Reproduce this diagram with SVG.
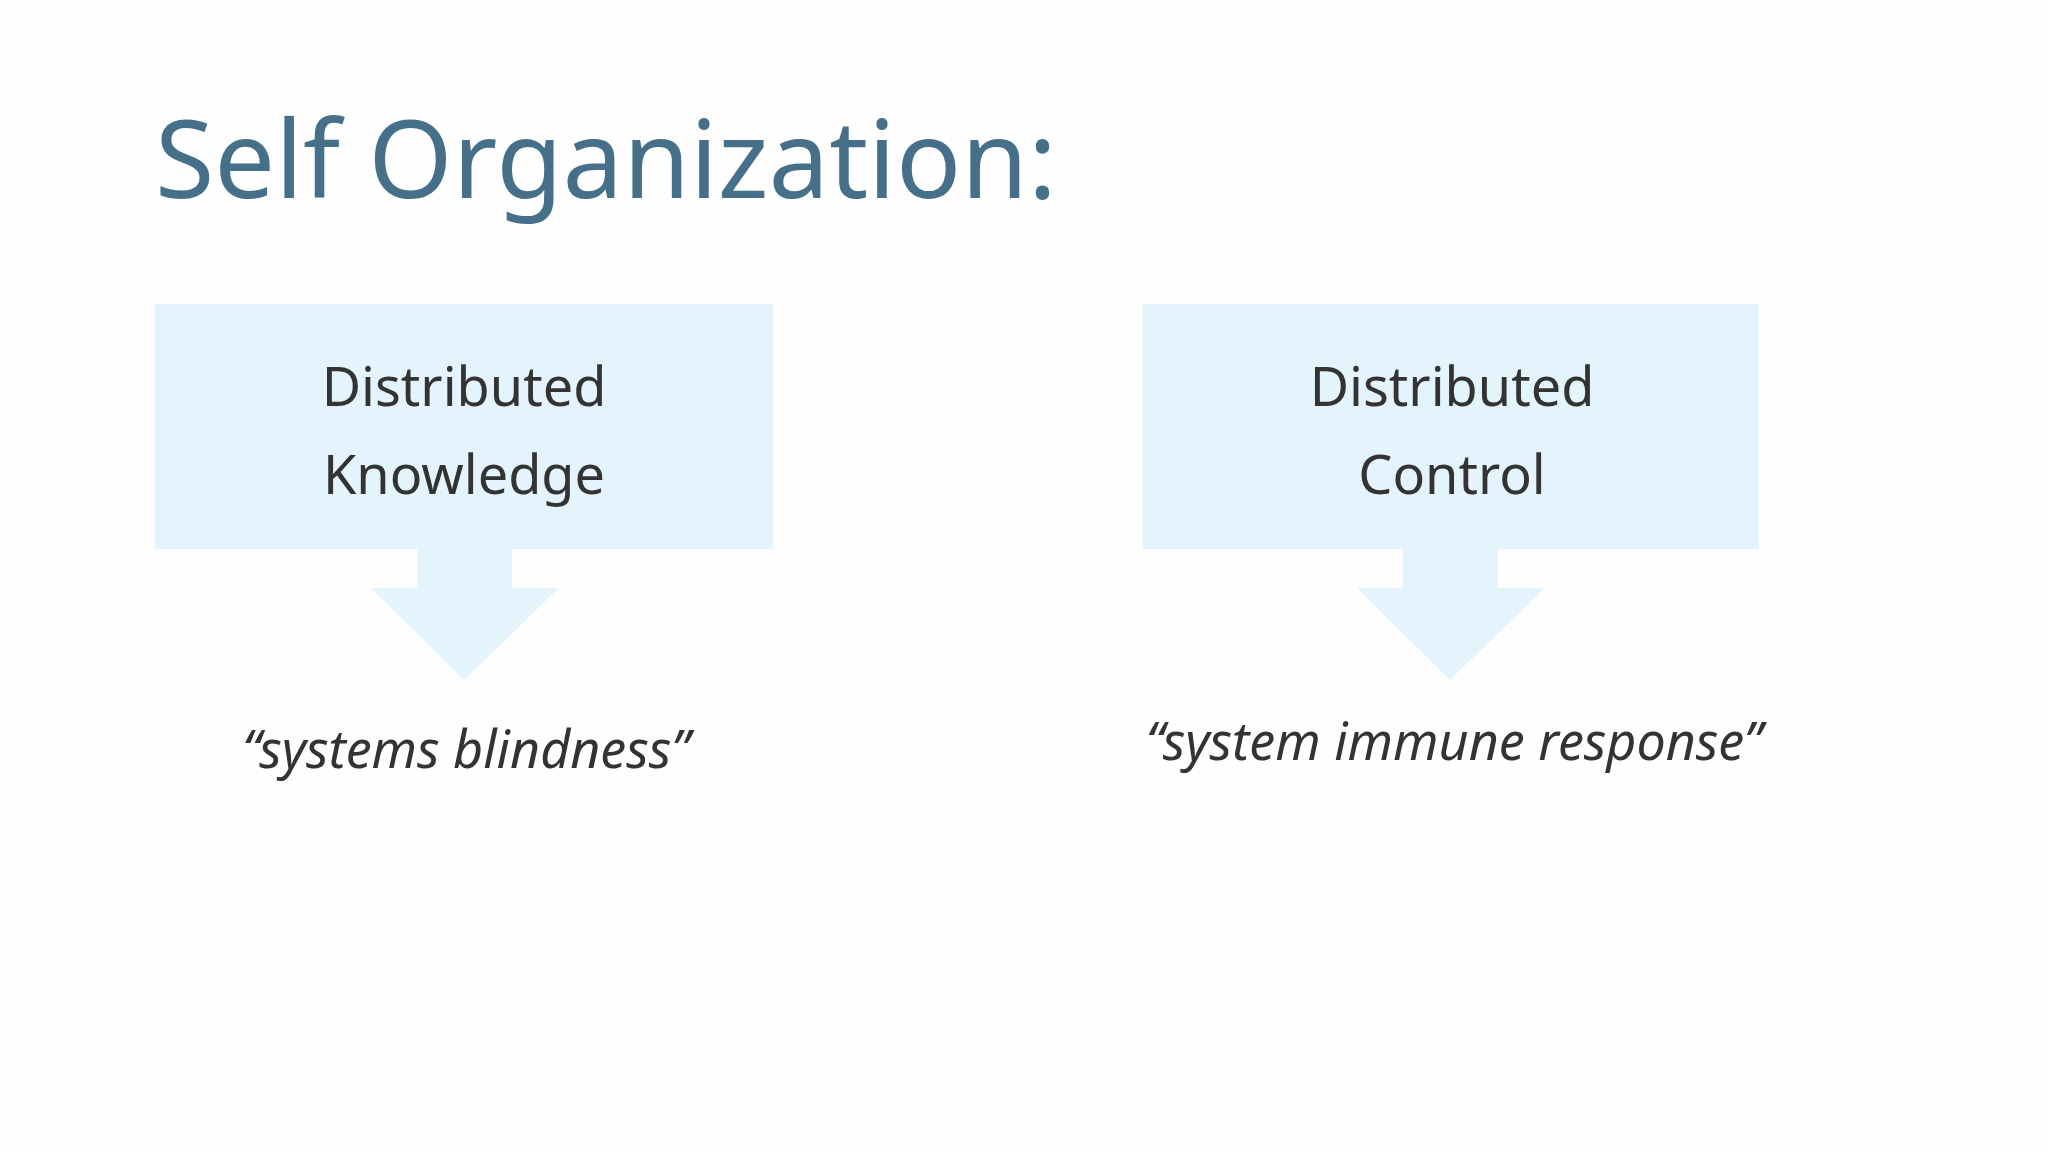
<svg xmlns="http://www.w3.org/2000/svg" width="2048" height="1152" viewBox="0 0 2048 1152">
<style>
.box{fill:#e3f4fd}
.lbl{font-family:"Noto Sans","Liberation Sans",sans-serif;font-size:54px;fill:#333;text-anchor:middle}
.q{font-family:"Noto Sans","Liberation Sans",sans-serif;font-style:italic;font-size:52px;fill:#333;text-anchor:middle}
</style>
<rect width="2048" height="1152" fill="#fefefe"/>
<text x="155" y="198" font-family="'Noto Sans','Liberation Sans',sans-serif" font-size="108" fill="#46708a">Self Organization:</text>
<g id="node1">
<rect class="box" x="155" y="304" width="618" height="245"/>
<text class="lbl" x="464" y="406">Distributed</text>
<text class="lbl" x="464" y="494">Knowledge</text>
</g>
<g id="node2">
<rect class="box" x="1143" y="304" width="616" height="245"/>
<text class="lbl" x="1452" y="406">Distributed</text>
<text class="lbl" x="1452" y="494">Control</text>
</g>
<g id="connectors">
<polygon class="box" points="417,549 512,549 512,588 559,588 464,680 371,588 417,588"/>
<polygon class="box" points="1403,549 1498,549 1498,588 1545,588 1450,680 1357,588 1403,588"/>
</g>
<g id="result1"><text class="q" x="466" y="768">“systems blindness”</text></g>
<g id="result2"><text class="q" x="1454" y="760">“system immune response”</text></g>
</svg>
